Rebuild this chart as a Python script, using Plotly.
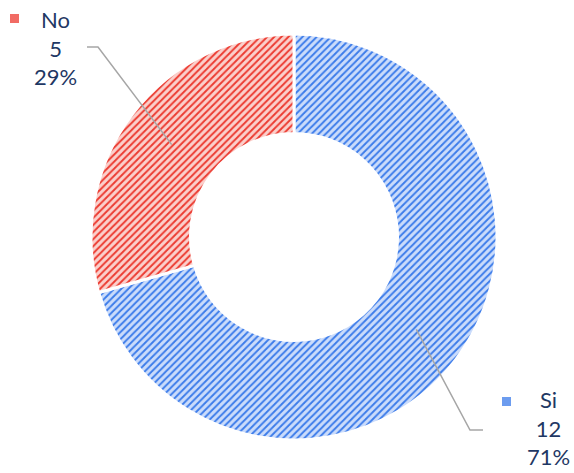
import math
import plotly.graph_objects as go

# Survey answers
labels = ["Si", "No"]
counts = [12, 5]

fill_bg = ["#cbdcfb", "#fbd0cc"]
fill_fg = ["#3b7bea", "#ec3a30"]
label_color = "#1F3864"

W, H = 574, 473
CX, CY, R_OUT = 294, 237, 203
HOLE = 0.51


def px(x):
    return x / W


def py(y):
    return 1 - y / H


fig = go.Figure(
    go.Pie(
        labels=labels,
        values=counts,
        hole=HOLE,
        sort=False,
        direction="clockwise",
        rotation=0,
        textinfo="none",
        textposition="none",
        hoverinfo="label+value+percent",
        marker=dict(
            colors=fill_bg,
            line=dict(color="white", width=3),
            pattern=dict(
                shape=["/", "/"],
                fgcolor=fill_fg,
                bgcolor=fill_bg,
                size=5,
                solidity=0.38,
                fillmode="replace",
            ),
        ),
        domain=dict(
            x=[px(CX - R_OUT), px(CX + R_OUT)],
            y=[py(CY + R_OUT), py(CY - R_OUT)],
        ),
        showlegend=False,
    )
)

total = sum(counts)
r_mid = R_OUT * (1 + HOLE) / 2

# label block layout: (text centre x, middle line y, elbow x, elbow y, outer x, marker x, marker y)
label_layout = {
    "Si": dict(tx=548, ty=428, ex=470, ey=430, ox=483, mx=502, my=397),
    "No": dict(tx=55, ty=48, ex=98, ey=47, ox=87, mx=10, my=14),
}

shapes = []
annotations = []
start = 0.0
for lab, val, fg, bg in zip(labels, counts, fill_fg, fill_bg):
    frac = val / total
    mid = (start + frac / 2) * 2 * math.pi  # clockwise from 12 o'clock
    start += frac
    ax = CX + r_mid * math.sin(mid)
    ay = CY - r_mid * math.cos(mid)
    L = label_layout[lab]
    shapes.append(
        dict(
            type="path",
            xref="paper",
            yref="paper",
            path=f"M {px(ax)},{py(ay)} L {px(L['ex'])},{py(L['ey'])} L {px(L['ox'])},{py(L['ey'])}",
            line=dict(color="#a6a6a6", width=1.5),
        )
    )
    shapes.append(
        dict(
            type="rect",
            xref="paper",
            yref="paper",
            x0=px(L["mx"]),
            x1=px(L["mx"] + 9),
            y0=py(L["my"] + 9),
            y1=py(L["my"]),
            fillcolor=fg,
            opacity=0.75,
            line=dict(width=0),
        )
    )
    pct = round(100 * frac)
    annotations.append(
        dict(
            x=px(L["tx"]),
            y=py(L["ty"]),
            xref="paper",
            yref="paper",
            xanchor="center",
            yanchor="middle",
            showarrow=False,
            align="center",
            text=f"{lab}<br>{val}<br>{pct}%",
            font=dict(family="Lato, Open Sans, sans-serif", size=22, color=label_color),
        )
    )

fig.update_layout(
    width=W,
    height=H,
    margin=dict(l=0, r=0, t=0, b=0),
    paper_bgcolor="white",
    plot_bgcolor="white",
    shapes=shapes,
    annotations=annotations,
)

fig.write_html("out.html")
